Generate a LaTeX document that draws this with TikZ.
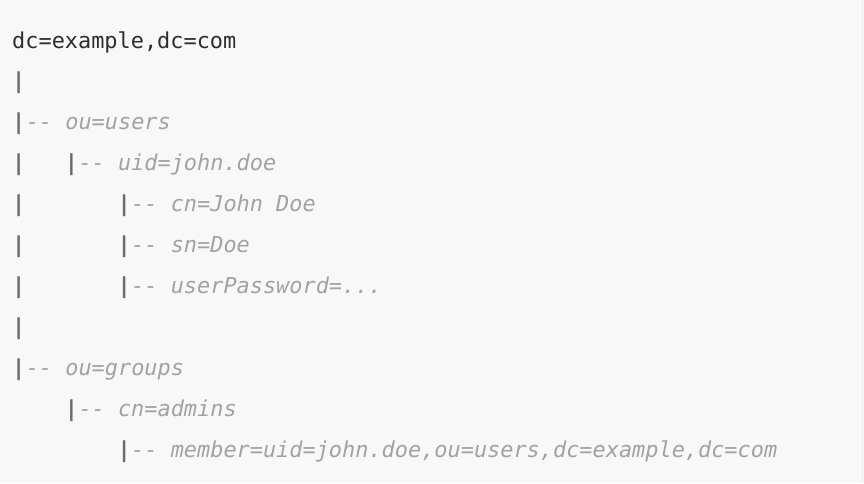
\documentclass[tikz,border=0pt]{standalone}
\usepackage{fontspec}
\newfontfamily\codefont{DejaVu Sans Mono}
\usetikzlibrary{positioning}
\definecolor{codebg}{HTML}{F8F8F8}
\definecolor{codetext}{HTML}{2E2E2E}
\definecolor{codepipe}{HTML}{6A6A6A}
\definecolor{codecmt}{HTML}{A2A2A2}
\newcommand{\cfont}{\codefont\fontsize{21.9}{26}\selectfont}

\begin{document}
\begin{tikzpicture}[x=1pt,y=1pt,
  code/.style={anchor=base west,inner sep=0pt,font=\cfont},
  plain/.style={code,text=codetext},
  pipe/.style={code,text=codepipe,font=\cfont\bfseries},
  cmt/.style={code,text=codecmt,font=\cfont\itshape}]
\fill[codebg] (0,0) rectangle (864,-483);
\useasboundingbox (0,0) rectangle (864,-483);
\draw[black!7] (862.5,0) -- (862.5,-483);

\node[plain] (root) at (12,-48) {dc=example,dc=com};

% trunk
\foreach \i in {1,...,8}
  \node[pipe] (t\i) at (12,-48-40.95*\i) {|};

% branches
\node[pipe] (b3) at (12+13.18*4,-48-40.95*3) {|};
\foreach \i in {4,5,6}
  \node[pipe] (b\i) at (12+13.18*8,-48-40.95*\i) {|};
\node[pipe] (b9) at (12+13.18*4,-48-40.95*9) {|};
\node[pipe] (b10) at (12+13.18*8,-48-40.95*10) {|};

% entries
\node[cmt,right=0pt of t2.base east,anchor=base west] (users) {-- ou=users};
\node[cmt,right=0pt of b3.base east,anchor=base west] (john) {-- uid=john.doe};
\node[cmt,right=0pt of b4.base east,anchor=base west] (cn) {-- cn=John Doe};
\node[cmt,right=0pt of b5.base east,anchor=base west] (sn) {-- sn=Doe};
\node[cmt,right=0pt of b6.base east,anchor=base west] (pw) {-- userPassword=...};
\node[cmt,right=0pt of t8.base east,anchor=base west] (groups) {-- ou=groups};
\node[cmt,right=0pt of b9.base east,anchor=base west] (admins) {-- cn=admins};
\node[cmt,right=0pt of b10.base east,anchor=base west] (member) {-- member=uid=john.doe,ou=users,dc=example,dc=com};
\end{tikzpicture}
\end{document}
